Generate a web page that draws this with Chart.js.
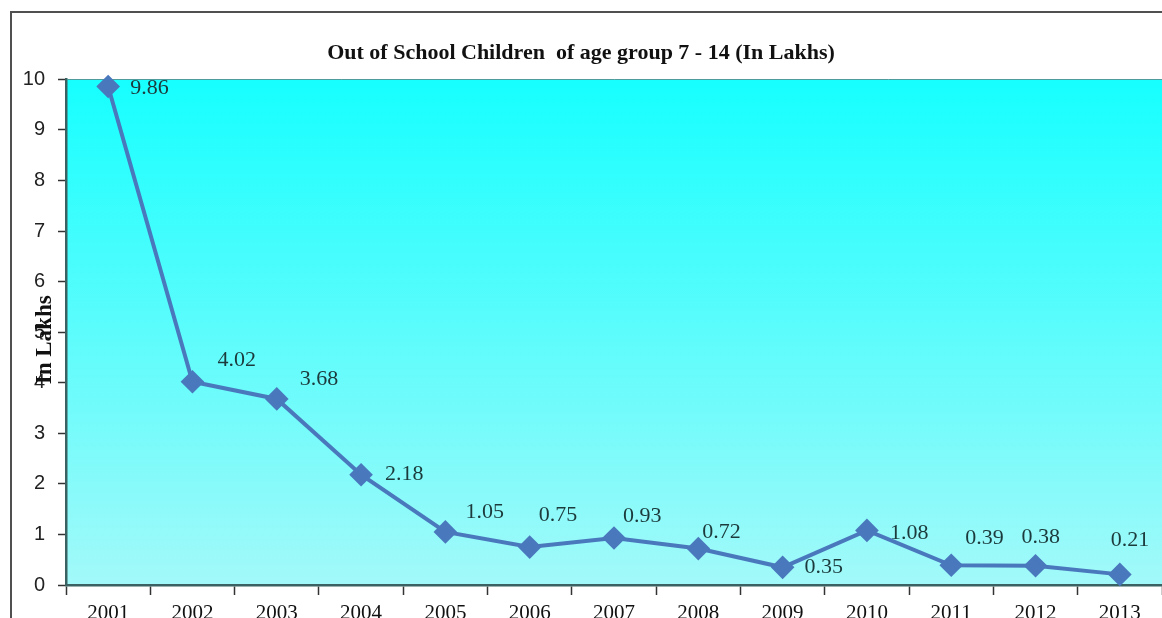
<!DOCTYPE html>
<html>
<head>
<meta charset="utf-8">
<script src="https://cdn.jsdelivr.net/npm/chart.js@4.4.0/dist/chart.umd.min.js"></script>
<style>
  html, body { margin: 0; padding: 0; background: #fff; }
  #wrap { width: 1162px; height: 618px; }
</style>
</head>
<body>
<div id="wrap"><canvas id="chart" width="1162" height="618"></canvas></div>
<script>
// Chart data
const years = ['2001', '2002', '2003', '2004', '2005', '2006', '2007', '2008', '2009', '2010', '2011', '2012', '2013'];
const outOfSchool = [9.86, 4.02, 3.68, 2.18, 1.05, 0.75, 0.93, 0.72, 0.35, 1.08, 0.39, 0.38, 0.21];
const yTicks = [0, 1, 2, 3, 4, 5, 6, 7, 8, 9, 10];

// Label nudges relative to each point (dx, dy), as placed in the original
const labelOffsets = [
  [22, 2], [25, -22], [23, -20], [24, -1], [20, -20], [9, -32],
  [9, -22], [4, -16], [22, 0], [23, 3], [14, -27], [-14, -29], [-9, -34]
];

// Background, frame and plot fill
const backdrop = {
  id: 'backdrop',
  beforeDraw(chart) {
    const { ctx, chartArea: a } = chart;
    ctx.save();
    ctx.fillStyle = '#ffffff';
    ctx.fillRect(0, 0, chart.width, chart.height);
    const grad = ctx.createLinearGradient(0, a.top, 0, a.bottom);
    grad.addColorStop(0, '#16ffff');
    grad.addColorStop(1, '#a3f9f9');
    ctx.fillStyle = grad;
    ctx.fillRect(a.left, a.top, a.right - a.left, a.bottom - a.top);
    // outer frame of the chart object
    ctx.strokeStyle = '#505050';
    ctx.lineWidth = 2;
    ctx.beginPath();
    ctx.moveTo(11, chart.height);
    ctx.lineTo(11, 12);
    ctx.lineTo(chart.width, 12);
    ctx.stroke();
    ctx.restore();
  }
};

// Value labels next to the points + rotated y-axis title
const valueLabels = {
  id: 'valueLabels',
  afterDatasetsDraw(chart) {
    const { ctx } = chart;
    const meta = chart.getDatasetMeta(0);
    ctx.save();
    ctx.font = '22px "Liberation Serif", "Times New Roman", serif';
    ctx.fillStyle = '#1c3a3c';
    ctx.textAlign = 'left';
    ctx.textBaseline = 'middle';
    meta.data.forEach((pt, i) => {
      const off = labelOffsets[i] || [20, -20];
      ctx.fillText(outOfSchool[i].toFixed(2), pt.x + off[0], pt.y + off[1]);
    });
    ctx.restore();
  },
  afterDraw(chart) {
    const { ctx } = chart;
    const y = chart.scales.y;
    ctx.save();
    ctx.translate(45, (y.getPixelForValue(3.9) + y.getPixelForValue(5.8)) / 2);
    ctx.rotate(-Math.PI / 2);
    ctx.font = 'bold 23px "Liberation Serif", "Times New Roman", serif';
    ctx.fillStyle = '#111';
    ctx.textAlign = 'center';
    ctx.textBaseline = 'middle';
    ctx.fillText('In Lakhs', 0, 0);
    ctx.restore();
  }
};

const ctx = document.getElementById('chart').getContext('2d');
const chart = new Chart(ctx, {
  type: 'line',
  data: {
    labels: years,
    datasets: [{
      data: outOfSchool,
      borderColor: '#4a78bd',
      backgroundColor: '#4a78bd',
      borderWidth: 4,
      pointStyle: 'rectRot',
      pointRadius: 9,
      pointHoverRadius: 9,
      pointBackgroundColor: '#4a78bd',
      pointBorderColor: '#4a78bd',
      fill: false,
      tension: 0,
      clip: false
    }]
  },
  options: {
    responsive: false,
    animation: false,
    layout: { autoPadding: false, padding: { left: 0, right: 0, top: 0, bottom: 0 } },
    plugins: {
      legend: { display: false },
      tooltip: { enabled: false },
      title: {
        display: true,
        text: 'Out of School Children  of age group 7 - 14 (In Lakhs)',
        color: '#111',
        font: { family: '"Liberation Serif", "Times New Roman", serif', size: 22, weight: 'bold' },
        padding: { top: 40, bottom: 13 }
      }
    },
    scales: {
      x: {
        offset: true,
        grid: {
          offset: true,
          drawOnChartArea: false,
          color: '#333',
          tickColor: '#333',
          tickLength: 10,
          tickWidth: 1.5
        },
        border: { color: '#3b6262', width: 2.5 },
        ticks: {
          color: '#111',
          padding: 6,
          maxRotation: 0,
          autoSkip: false,
          font: { family: '"Liberation Serif", "Times New Roman", serif', size: 21 }
        },
        afterFit(scale) {
          scale.height = 33;
          scale.paddingLeft = 0;
          scale.paddingRight = 0;
        }
      },
      y: {
        min: 0,
        max: 10,
        afterBuildTicks(scale) { scale.ticks = yTicks.map(v => ({ value: v })); },
        grid: {
          color: c => (c.tick && c.tick.value === 10 ? '#4f9c9c' : 'rgba(0,0,0,0)'),
          tickColor: '#333',
          tickLength: 8,
          tickWidth: 1.5
        },
        border: { color: '#3b6262', width: 2.5 },
        ticks: {
          color: '#222',
          padding: 13,
          font: { family: '"Liberation Sans", Arial, sans-serif', size: 20 }
        },
        afterFit(scale) { scale.width = 66; }
      }
    }
  },
  plugins: [backdrop, valueLabels]
});
</script>
</body>
</html>
